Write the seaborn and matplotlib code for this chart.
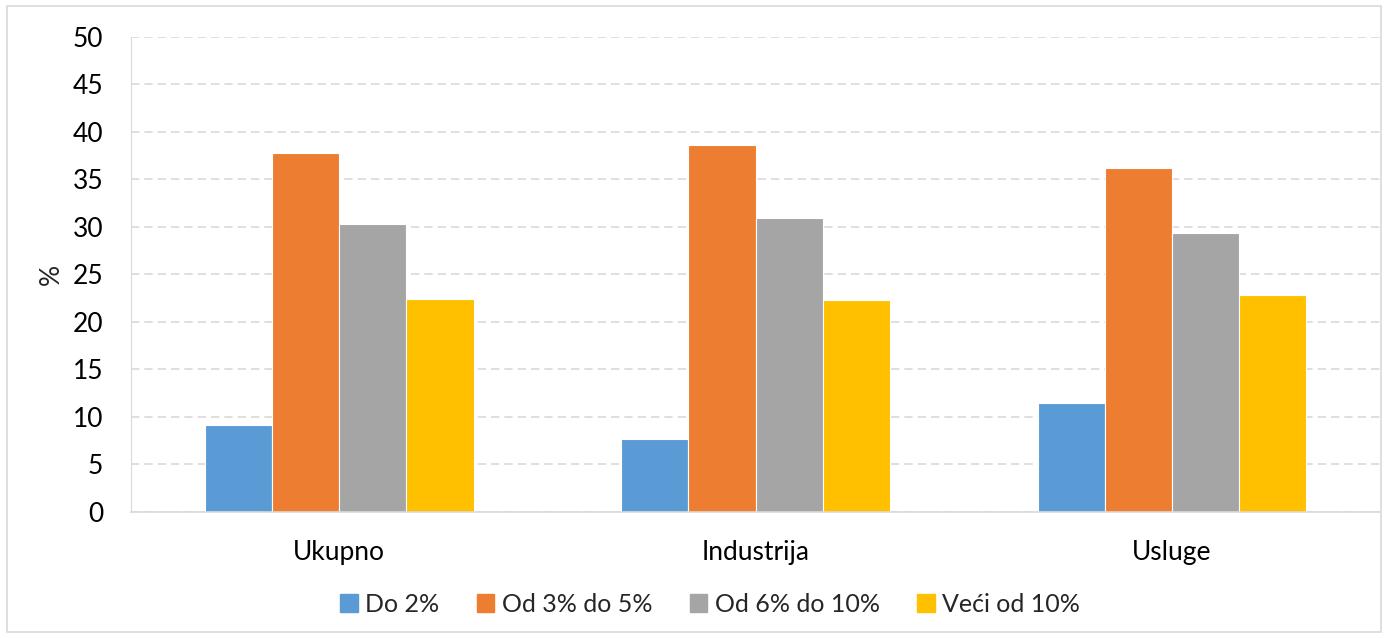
import matplotlib
matplotlib.use('Agg')
import matplotlib.pyplot as plt
import seaborn as sns
import pandas as pd
from matplotlib.patches import Rectangle

# podaci
sektori = ['Ukupno', 'Industrija', 'Usluge']
kategorije = ['Do 2%', 'Od 3% do 5%', 'Od 6% do 10%', 'Veći od 10%']
do_2 = [9.1, 7.7, 11.5]
od_3_do_5 = [37.8, 38.6, 36.2]
od_6_do_10 = [30.3, 30.9, 29.3]
veci_od_10 = [22.4, 22.3, 22.8]
boje = ['#5B9BD5', '#ED7D31', '#A5A5A5', '#FFC000']

df = pd.DataFrame({
    'sektor': sektori * 4,
    'kategorija': [k for k in kategorije for _ in sektori],
    'vrijednost': do_2 + od_3_do_5 + od_6_do_10 + veci_od_10,
})

sns.set_style('white')
plt.rcParams['font.family'] = ['Lato', 'DejaVu Sans']

fig = plt.figure(figsize=(13.88, 6.38), dpi=100)
ax = fig.add_axes([0.0944, 0.1975, 0.9, 0.745])

sns.barplot(data=df, x='sektor', y='vrijednost', hue='kategorija',
            order=sektori, hue_order=kategorije, palette=boje,
            width=0.645, saturation=1, ax=ax, edgecolor='white', linewidth=0.8)

ax.set_ylim(0, 50)
ax.set_xlim(-0.5, 2.5)
ax.set_yticks(range(0, 51, 5))
ax.yaxis.grid(True, linestyle=(0, (5, 3)), color='#D9D9D9', linewidth=1.2)
ax.set_axisbelow(True)
for s in ['top', 'right']:
    ax.spines[s].set_visible(False)
ax.spines['left'].set_color('#D9D9D9')
ax.spines['bottom'].set_color('#D9D9D9')
ax.spines['bottom'].set_linewidth(1.2)
ax.tick_params(axis='both', length=0, labelsize=19, colors='black')
ax.tick_params(axis='y', pad=20)
ax.tick_params(axis='x', pad=20)
ax.set_xlabel('')
ax.set_ylabel('%', fontsize=19, labelpad=6)

handles = [Rectangle((0, 0), 1, 1, color=c) for c in boje]
ax.legend(handles, kategorije, loc='center', bbox_to_anchor=(0.4636, -0.194),
          ncol=4, frameon=False, fontsize=18, handlelength=0.7, handleheight=0.7,
          handletextpad=0.3, columnspacing=1.5)

fig.patches.append(Rectangle((0.005, 0.01), 0.99, 0.98, transform=fig.transFigure,
                             fill=False, edgecolor='#D9D9D9', linewidth=1.2))

plt.savefig('out.png', dpi=100)
